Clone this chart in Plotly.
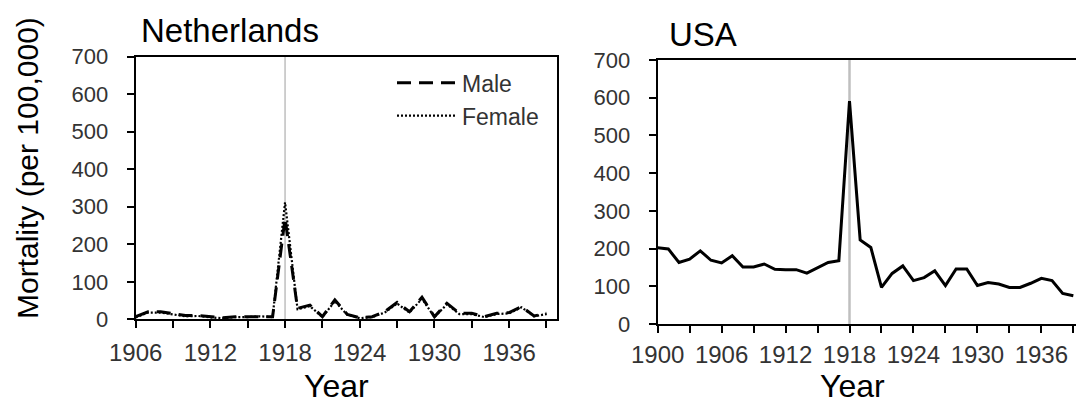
import plotly.graph_objects as go

# Netherlands, influenza mortality per 100,000 by sex
nl_years = list(range(1906, 1940))
nl_male = [7, 20, 20, 14, 10, 10, 7, 4, 7, 7, 9, 7, 270, 29, 38, 7, 52, 13, 4, 7,
           20, 45, 20, 59, 7, 43, 16, 16, 7, 16, 18, 34, 9, 16]
nl_female = [5, 18, 18, 12, 8, 9, 5, 3, 6, 6, 8, 6, 312, 27, 35, 6, 48, 12, 3, 6,
             18, 42, 18, 55, 6, 40, 14, 14, 6, 14, 16, 32, 8, 14]

# USA, influenza mortality per 100,000
us_years = list(range(1900, 1940))
us_total = [202, 199, 163, 172, 194, 169, 162, 181, 151, 151, 159, 145, 144, 144,
            135, 150, 163, 168, 591, 223, 203, 97, 134, 154, 115, 123, 141, 102,
            146, 146, 102, 110, 106, 97, 97, 108, 121, 115, 81, 75]

pandemic_year = 1918

nl_tickvals = list(range(1906, 1940, 3))
nl_ticktext = [str(v) if (v - 1906) % 6 == 0 else "" for v in nl_tickvals]
us_tickvals = list(range(1900, 1940, 3))
us_ticktext = [str(v) if (v - 1900) % 6 == 0 else "" for v in us_tickvals]

FONT = "Liberation Sans, Arial, sans-serif"
TICK_COLOR = "#333333"

fig = go.Figure()

fig.add_trace(go.Scatter(
    x=nl_years, y=nl_male, mode="lines", name="Male",
    line=dict(color="black", width=3, dash="14px,8px"),
    xaxis="x", yaxis="y",
))
fig.add_trace(go.Scatter(
    x=nl_years, y=nl_female, mode="lines", name="Female",
    line=dict(color="black", width=2.2, dash="2px,2px"),
    xaxis="x", yaxis="y",
))
fig.add_trace(go.Scatter(
    x=us_years, y=us_total, mode="lines", name="USA", showlegend=False,
    line=dict(color="black", width=3),
    xaxis="x2", yaxis="y2",
))

axis_common = dict(
    showgrid=False, zeroline=False, showline=True, linecolor="black",
    linewidth=2, ticks="outside", ticklen=7, tickwidth=1.5, tickcolor="black",
    automargin=False,
)

fig.update_layout(
    template="none",
    width=1076, height=406,
    margin=dict(l=0, r=0, t=0, b=0, pad=0),
    paper_bgcolor="white", plot_bgcolor="white",
    font=dict(family=FONT, color="black"),
    xaxis=dict(
        domain=[0.1261, 0.5177], range=[1906, 1939.85], anchor="y",
        tickvals=nl_tickvals, ticktext=nl_ticktext, mirror=True,
        tickfont=dict(size=24, color=TICK_COLOR), ticklabelstandoff=4,
        **axis_common,
    ),
    yaxis=dict(
        domain=[0.2135, 0.8604], range=[0, 700], dtick=100, anchor="x",
        mirror=True, tickfont=dict(size=22, color=TICK_COLOR),
        ticklabelstandoff=14, **axis_common,
    ),
    xaxis2=dict(
        domain=[0.6112, 1.0], range=[1900, 1939.25], anchor="y2",
        tickvals=us_tickvals, ticktext=us_ticktext, mirror=True,
        tickfont=dict(size=24, color=TICK_COLOR), ticklabelstandoff=1,
        **axis_common,
    ),
    yaxis2=dict(
        domain=[0.202, 0.8522], range=[0, 700], dtick=100, anchor="x2",
        tickfont=dict(size=22, color=TICK_COLOR), ticklabelstandoff=14,
        **axis_common,
    ),
    legend=dict(
        x=0.3643, y=0.849, xanchor="left", yanchor="top",
        bgcolor="rgba(0,0,0,0)", font=dict(size=23, color=TICK_COLOR),
        itemwidth=60, tracegroupgap=0,
    ),
    showlegend=True,
)

# Reference line marking the pandemic year
fig.add_shape(type="line", xref="x", yref="y domain", x0=pandemic_year,
              x1=pandemic_year, y0=0, y1=1,
              line=dict(color="#bfbfbf", width=1.5), layer="below")
fig.add_shape(type="line", xref="x2", yref="y2 domain", x0=pandemic_year,
              x1=pandemic_year, y0=0, y1=1,
              line=dict(color="#bfbfbf", width=2.5), layer="below")

annotations = [
    dict(text="Netherlands", x=139 / 1076, y=(406 - 30) / 406, xanchor="left",
         yanchor="middle", font=dict(size=33, color="black")),
    dict(text="USA", x=667 / 1076, y=(406 - 34) / 406, xanchor="left",
         yanchor="middle", font=dict(size=33, color="black")),
    dict(text="Year", x=336 / 1076, y=0, xanchor="center",
         yanchor="bottom", font=dict(size=32, color="black")),
    dict(text="Year", x=852 / 1076, y=0, xanchor="center",
         yanchor="bottom", font=dict(size=32, color="black")),
    dict(text="Mortality (per 100,000)", x=27 / 1076, y=(406 - 168) / 406,
         xanchor="center", yanchor="middle", textangle=-90,
         font=dict(size=30, color="black")),
]
for a in annotations:
    a.update(xref="paper", yref="paper", showarrow=False)
fig.update_layout(annotations=annotations)

fig.write_html("out.html")
